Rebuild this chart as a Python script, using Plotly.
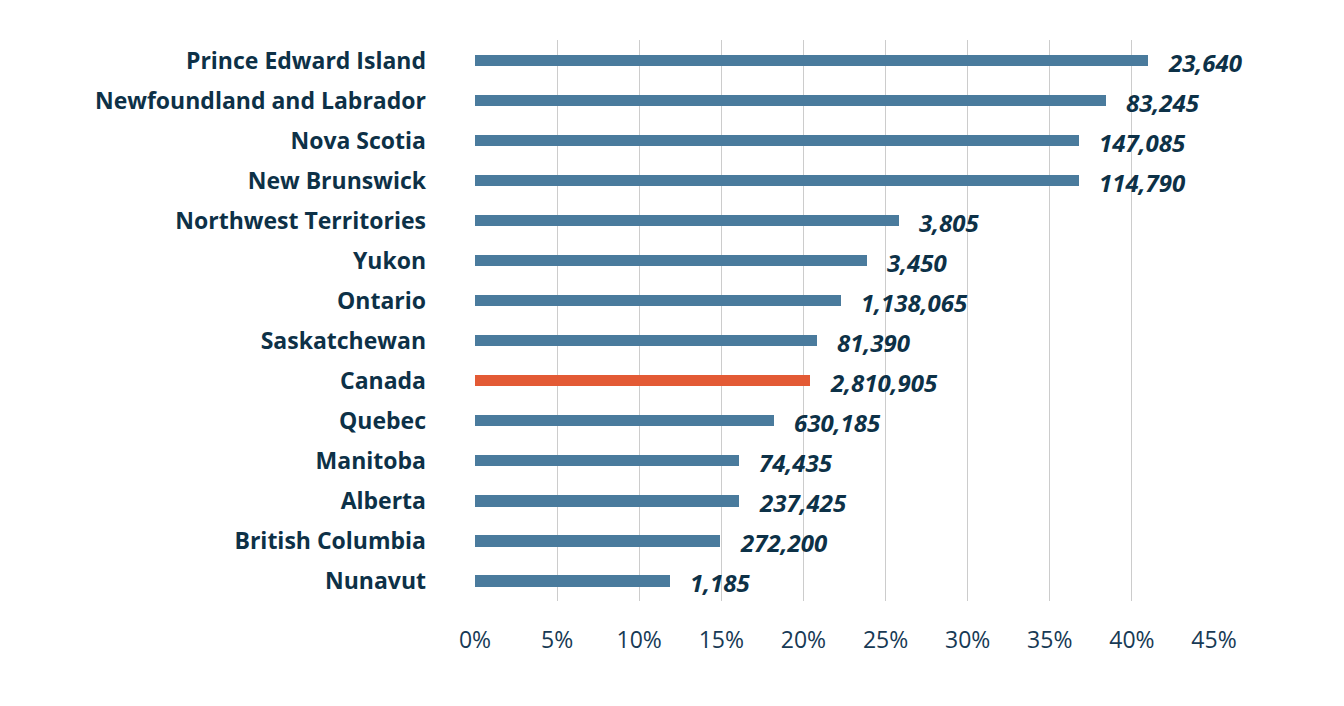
import plotly.graph_objects as go

regions = ["Prince Edward Island", "Newfoundland and Labrador", "Nova Scotia", "New Brunswick",
           "Northwest Territories", "Yukon", "Ontario", "Saskatchewan", "Canada", "Quebec",
           "Manitoba", "Alberta", "British Columbia", "Nunavut"]
shares = [41.0, 38.4, 36.8, 36.8, 25.8, 23.9, 22.3, 20.8, 20.4, 18.2, 16.1, 16.1, 14.9, 11.9]
counts = ["23,640", "83,245", "147,085", "114,790", "3,805", "3,450", "1,138,065", "81,390",
          "2,810,905", "630,185", "74,435", "237,425", "272,200", "1,185"]
tick_vals = [0, 5, 10, 15, 20, 25, 30, 35, 40, 45]
tick_text = ["0%", "5%", "10%", "15%", "20%", "25%", "30%", "35%", "40%", "45%"]

BLUE = "#4a7b9d"
ORANGE = "#e35a35"
TEXT = "#0d3147"
TICK = "#173a55"
FONT = "Open Sans"

colors = [ORANGE if r == "Canada" else BLUE for r in regions]

fig = go.Figure(go.Bar(
    x=shares, y=regions, orientation="h",
    marker=dict(color=colors, line=dict(width=0)),
    width=0.28, hoverinfo="skip",
))

for r, s, c in zip(regions, shares, counts):
    fig.add_annotation(x=s, y=r, text="<b><i>" + c + "</i></b>", showarrow=False,
                       xanchor="left", xshift=18, yshift=-2,
                       font=dict(family=FONT, size=24, color=TEXT))

fig.update_layout(
    width=1344, height=706,
    margin=dict(l=467, r=138, t=32, b=113),
    plot_bgcolor="white", paper_bgcolor="white",
    showlegend=False,
    bargap=0,
)
fig.update_xaxes(range=[0, 45], tickvals=tick_vals, ticktext=tick_text,
                 showgrid=True, gridcolor="#cccccc", gridwidth=1.3,
                 zeroline=False, showline=False,
                 ticks="", ticklabelstandoff=23,
                 tickfont=dict(family=FONT, size=23, color=TICK))
fig.update_yaxes(categoryorder="array", categoryarray=regions, autorange="reversed",
                 showgrid=False, zeroline=False, showline=False, ticks="",
                 ticklabelstandoff=48,
                 tickfont=dict(family=FONT, size=23, color=TEXT),
                 tickvals=regions, ticktext=["<b>" + r + "</b>" for r in regions])

fig.write_html("out.html")
